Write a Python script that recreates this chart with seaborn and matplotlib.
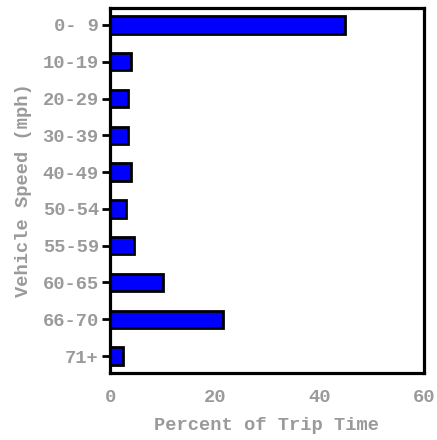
import matplotlib
matplotlib.use("Agg")
import matplotlib.pyplot as plt
import seaborn as sns
import pandas as pd

categories = ["0- 9", "10-19", "20-29", "30-39", "40-49", "50-54", "55-59", "60-65", "66-70", "71+"]
percent = [44.9, 4.0, 3.5, 3.5, 4.0, 3.0, 4.6, 10.2, 21.5, 2.5]
x_ticks = [0, 20, 40, 60]

df = pd.DataFrame({"speed": categories, "pct": percent})

sns.set_style("white")
plt.rcParams["font.family"] = ["Liberation Mono", "DejaVu Sans Mono"]
plt.rcParams["font.weight"] = "bold"
text_color = "#9a9a9a"

fig = plt.figure(figsize=(4.37, 4.40), dpi=100)
ax = fig.add_axes([110/437, 1-373/440, (424-110)/437, (373-8)/440])

sns.barplot(data=df, x="pct", y="speed", orient="h", color="#0000ff",
            saturation=1, edgecolor="black", linewidth=2.0, width=0.47, ax=ax)

ax.set_xlim(0, 60)
ax.set_ylim(9.46, -0.46)
ax.set_xticks(x_ticks)
ax.set_xticks(range(10, 60, 20), minor=True)
ax.tick_params(axis="x", which="both", direction="inout", length=9, width=2,
               color="black", labelsize=13.5, labelcolor=text_color, pad=7)
ax.tick_params(axis="y", direction="out", length=6, width=2, color="black",
               labelsize=13.5, labelcolor=text_color, pad=2, left=True)
for s in ax.spines.values():
    s.set_linewidth(2.3)
    s.set_color("black")

ax.set_xlabel("Percent of Trip Time", fontsize=13.5, fontweight="bold",
              color=text_color, labelpad=8)
ax.set_ylabel("Vehicle Speed (mph)", fontsize=13.5, fontweight="bold",
              color=text_color, labelpad=8)

fig.savefig("out.png", dpi=100)
